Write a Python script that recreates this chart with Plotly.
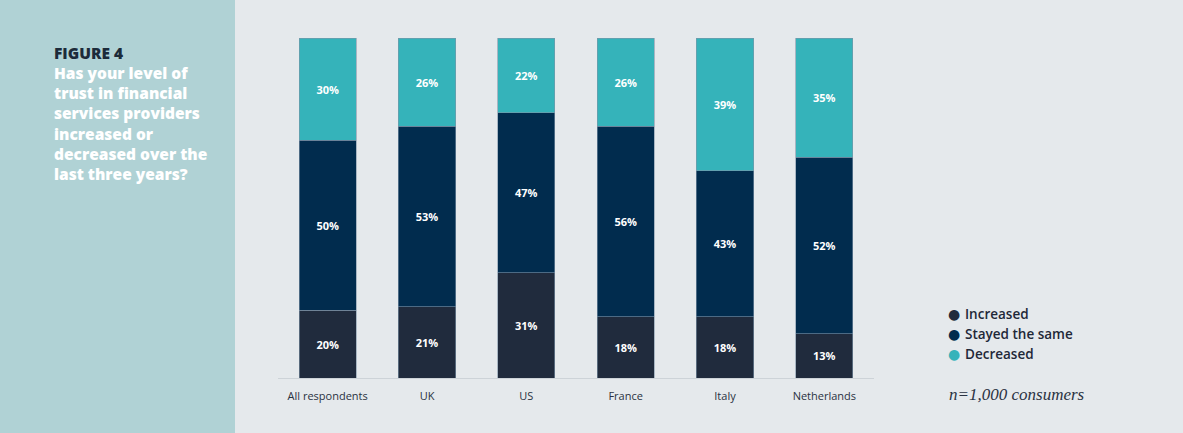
import plotly.graph_objects as go

categories = ["All respondents", "UK", "US", "France", "Italy", "Netherlands"]
increased = [20, 21, 31, 18, 18, 13]
stayed = [50, 53, 47, 56, 43, 52]
decreased = [30, 26, 22, 26, 39, 35]
series_names = ["Increased", "Stayed the same", "Decreased"]
colors = ["#202b3d", "#012c4e", "#35b3ba"]

W, H = 1183, 433
fig = go.Figure()
for name, vals, col in zip(series_names, [increased, stayed, decreased], colors):
    fig.add_trace(go.Bar(
        x=categories, y=vals, name=name, marker=dict(color=col, line=dict(color="#7f95a8", width=0.6)),
        width=0.575, texttemplate="%{y}%", textposition="inside", insidetextanchor="middle",
        textangle=0, textfont=dict(color="white", size=11, family="Open Sans", weight=700),
        showlegend=False, hoverinfo="skip"))

fig.add_shape(type="rect", xref="paper", yref="paper", x0=0, x1=235 / W, y0=0, y1=1,
              fillcolor="#b0d2d5", line=dict(width=0), layer="below")

# legend drawn as annotations
for i, (name, col) in enumerate(zip(series_names, colors)):
    yp = 1 - (314 + 20 * i) / H
    fig.add_annotation(xref="paper", yref="paper", x=946 / W, y=yp, xanchor="left", yanchor="middle",
                       showarrow=False, text=f"<span style='color:{col}'>●</span>",
                       font=dict(family="DejaVu Sans", size=14))
    fig.add_annotation(xref="paper", yref="paper", x=963 / W, y=yp, xanchor="left", yanchor="middle",
                       showarrow=False, text=name,
                       font=dict(family="Open Sans", size=13.5, color="#1e2838", weight=600))

fig.add_annotation(
    xref="paper", yref="paper", x=52 / W, y=1 - 40 / H, xanchor="left", yanchor="top", align="left",
    showarrow=False,
    text=("<span style='color:#1c2b3a'>FIGURE 4</span><br>"
          "Has your level of<br>trust in financial<br>services providers<br>increased or<br>"
          "decreased over the<br>last three years?"),
    font=dict(family="Open Sans", size=15.5, color="white", weight=800))
fig.add_annotation(xref="paper", yref="paper", x=947 / W, y=1 - 394 / H, xanchor="left", yanchor="middle",
                   showarrow=False, text="<i>n=1,000 consumers</i>",
                   font=dict(family="Liberation Serif", size=17, color="#2a3242"))

fig.update_layout(
    width=W, height=H, margin=dict(l=0, r=0, t=0, b=0),
    paper_bgcolor="#e5e9ec", plot_bgcolor="#e5e9ec", barmode="stack", bargap=0.4,
    xaxis=dict(domain=[278 / W, 874 / W], range=[-0.5, 5.5], showgrid=False, showline=True,
               linecolor="#cdd3d8", linewidth=1, ticks="", automargin=False, ticklabelstandoff=8,
               tickfont=dict(family="Open Sans", size=11, color="#2a3242", weight=500)),
    yaxis=dict(domain=[(H - 378) / H, (H - 38) / H], range=[0, 100], visible=False, automargin=False),
    showlegend=False,
    font=dict(family="Open Sans"),
)
fig.write_html("out.html")
